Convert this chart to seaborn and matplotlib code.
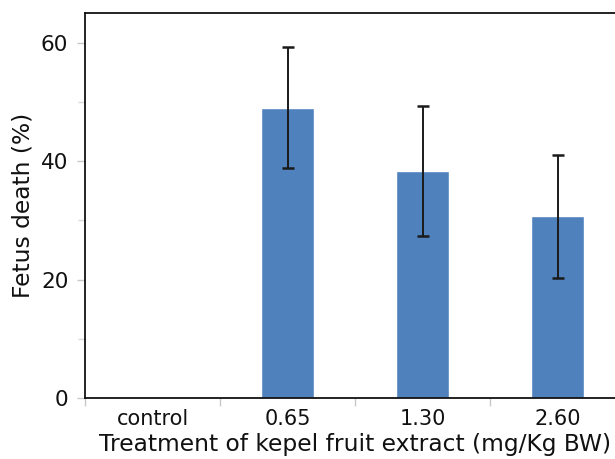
import matplotlib
matplotlib.use("Agg")
import matplotlib.pyplot as plt
import seaborn as sns
import numpy as np
import pandas as pd

categories = ["control", "0.65", "1.30", "2.60"]
values = [0.0, 49.0, 38.3, 30.7]
errors = [np.nan, 10.2, 11.0, 10.4]
y_ticks = [0, 20, 40, 60]
y_minor = [10, 30, 50]

sns.set_theme(style="white")
plt.rcParams['font.family'] = ['DejaVu Sans']

df = pd.DataFrame({"cat": categories, "val": values})

fig = plt.figure(figsize=(6.15, 4.59), dpi=100)
ax = fig.add_axes([85/615, 1 - 398/459, 540/615, (398 - 13)/459])

sns.barplot(data=df, x="cat", y="val", color="#4F81BD", saturation=1,
            width=0.39, errorbar=None, ax=ax)
ax.errorbar(np.arange(len(categories)), values, yerr=errors, fmt="none",
            ecolor="#1a1a1a", elinewidth=1.4, capsize=4, capthick=1.8)

ax.set_xlim(-0.5, len(categories) - 0.5)
ax.set_ylim(0, 65)
ax.set_yticks(y_ticks)
ax.set_yticks(y_minor, minor=True)
ax.set_xticks(np.arange(len(categories)))
ax.set_xticklabels(categories)
ax.set_xticks(np.arange(len(categories) + 1) - 0.5, minor=True)

ax.tick_params(axis="y", which="major", length=6, width=1, color="#c8c8c8",
               labelsize=15.5, pad=6, labelcolor="#111111", left=True)
ax.tick_params(axis="y", which="minor", length=5, width=1, color="#d8d8d8", left=True)
ax.tick_params(axis="x", which="major", length=0, labelsize=15, pad=8,
               labelcolor="#111111")
ax.tick_params(axis="x", which="minor", length=6, width=1, color="#c8c8c8",
               bottom=True, direction="out")

ax.set_xlabel("Treatment of kepel fruit extract (mg/Kg BW)", fontsize=16.8,
              color="#111111", labelpad=2.5)
ax.set_ylabel("Fetus death (%)", fontsize=16.8, color="#111111", labelpad=5)

for s in ["top", "left", "bottom", "right"]:
    ax.spines[s].set_visible(True)
    ax.spines[s].set_color("#111111")
    ax.spines[s].set_linewidth(1.3)

fig.savefig("out.png", dpi=100)
